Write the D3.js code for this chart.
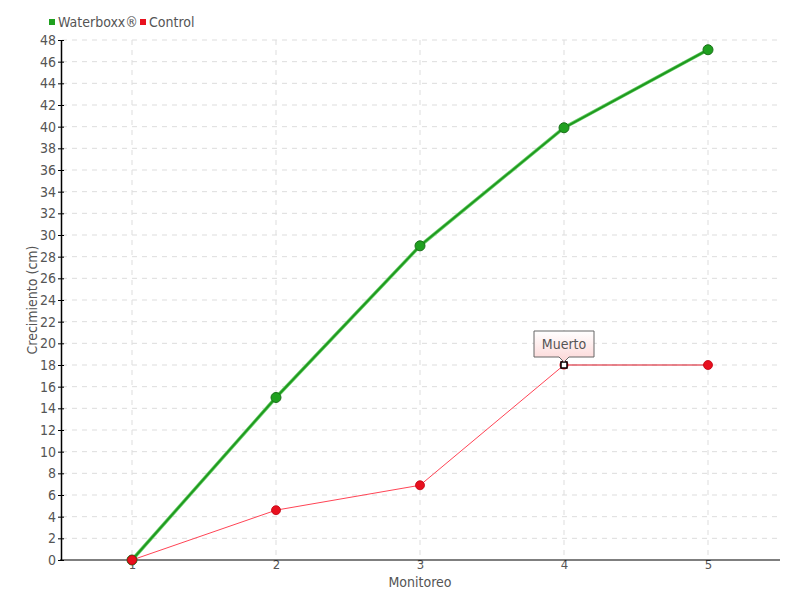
<!DOCTYPE html>
<html><head><meta charset="utf-8">
<script src="https://cdn.jsdelivr.net/npm/d3@7/dist/d3.min.js"></script>
<style>
body{margin:0;background:#fff;}
text{font-family:"DejaVu Sans Condensed","DejaVu Sans",sans-serif;fill:#555;}
</style></head><body>
<svg id="c" width="800" height="600"></svg>
<script>
const monitoreo = [1, 2, 3, 4, 5];
const waterboxx = [0, 15, 29, 39.9, 47.1];
const control = [0, 4.6, 6.9, 18, 18];
const yTicks = d3.range(0, 49, 2);
const seriesNames = ["Waterboxx®", "Control"];
const seriesColors = ["#1fa01f", "#e8101e"];
const annotationIndex = 3;
const annotationText = "Muerto";

const svg = d3.select("#c");
const x = d3.scaleLinear().domain([0.5, 5.5]).range([60, 780]);
const y = d3.scaleLinear().domain([0, 48]).range([560, 40]);

// grid
const g = svg.append("g");
g.selectAll(".hg").data(yTicks.slice(1)).enter().append("line")
 .attr("x1", 62).attr("x2", 780).attr("y1", d => y(d)).attr("y2", d => y(d))
 .attr("stroke", "#ddd").attr("stroke-dasharray", "5,5");
g.selectAll(".vg").data(monitoreo).enter().append("line")
 .attr("x1", d => x(d)).attr("x2", d => x(d)).attr("y1", 40).attr("y2", 560)
 .attr("stroke", "#ddd").attr("stroke-dasharray", "5,5");

// axes
const ya = svg.append("g").attr("transform", "translate(61,0)")
 .call(d3.axisLeft(y).tickValues(yTicks).tickSize(3).tickPadding(2).tickSizeOuter(0));
ya.select(".domain").attr("stroke", "#000").attr("stroke-width", 1.5);
ya.selectAll(".tick line").attr("x2", 3).attr("x1", -3).attr("stroke", "#000");
ya.selectAll("text").attr("font-size", 14).attr("fill", "#555").attr("font-family", "DejaVu Sans Condensed");

const xa = svg.append("g").attr("transform", "translate(0,560)")
 .call(d3.axisBottom(x).tickValues(monitoreo).tickFormat(d3.format("d")).tickSize(0).tickPadding(0).tickSizeOuter(0));
xa.select(".domain").remove();
svg.append("line").attr("x1", 60).attr("x2", 780).attr("y1", 560).attr("y2", 560).attr("stroke", "#000").attr("stroke-width", 1.2);
xa.selectAll("text").attr("font-size", 13).attr("fill", "#555").attr("font-family", "DejaVu Sans Condensed");

svg.append("text").attr("x", 420).attr("y", 587).attr("text-anchor", "middle").attr("font-size", 14).text("Monitoreo");
svg.append("text").attr("transform", "translate(37,300) rotate(-90)").attr("text-anchor", "middle").attr("font-size", 14).text("Crecimiento (cm)");

// lines
const line = d3.line().x((d, i) => x(monitoreo[i])).y(d => y(d));
svg.append("path").datum(waterboxx).attr("d", line).attr("fill", "none").attr("stroke", "#6cd06c").attr("stroke-width", 3.5);
svg.append("path").datum(waterboxx).attr("d", line).attr("fill", "none").attr("stroke", "#1f9a1f").attr("stroke-width", 2);

svg.append("path").datum(control.slice(0, annotationIndex + 1)).attr("d", line).attr("fill", "none").attr("stroke", "#ff4455").attr("stroke-width", 1);
svg.append("line").attr("x1", x(monitoreo[3])).attr("x2", x(monitoreo[4])).attr("y1", y(control[3])).attr("y2", y(control[4]))
 .attr("stroke", "#d81020").attr("stroke-width", 1);

svg.selectAll(".wp").data(waterboxx).enter().append("circle")
 .attr("cx", (d, i) => x(monitoreo[i])).attr("cy", d => y(d)).attr("r", 5)
 .attr("fill", "#1fa01f").attr("stroke", "#1a701a").attr("stroke-width", 1);

const pts = control.map((v, i) => ({v, i})).filter(p => p.i !== annotationIndex);
svg.selectAll(".cp").data(pts).enter().append("circle")
 .attr("cx", p => x(monitoreo[p.i])).attr("cy", p => y(p.v)).attr("r", 4.5)
 .attr("fill", "#e8101e").attr("stroke", "#c00010").attr("stroke-width", 0.8);

// annotated point
const ax = x(monitoreo[annotationIndex]), ay = y(control[annotationIndex]);
svg.append("circle").attr("cx", ax).attr("cy", ay).attr("r", 4.5).attr("fill", "#e8101e");
svg.append("rect").attr("x", ax - 3).attr("y", ay - 3).attr("width", 6).attr("height", 6)
 .attr("fill", "#fff").attr("stroke", "#000").attr("stroke-width", 1.5);

// callout
const defs = svg.append("defs");
const gr = defs.append("linearGradient").attr("id", "pk").attr("x1", 0).attr("x2", 0).attr("y1", 0).attr("y2", 1);
gr.append("stop").attr("offset", "0%").attr("stop-color", "#ffffff");
gr.append("stop").attr("offset", "100%").attr("stop-color", "#fcd6d6");
const bx = ax - 30, by = ay - 34, bw = 60, bh = 26;
svg.append("path")
 .attr("d", `M${bx},${by} H${bx+bw} V${by+bh} H${ax+5} L${ax},${by+bh+5} L${ax-5},${by+bh} H${bx} Z`)
 .attr("fill", "url(#pk)").attr("stroke", "#666").attr("stroke-width", 1);
svg.append("text").attr("x", ax).attr("y", by + 18).attr("text-anchor", "middle").attr("font-size", 14).text(annotationText);

// legend
const lg = svg.append("g");
const lx = [49, 140];
seriesNames.forEach((n, i) => {
 lg.append("rect").attr("x", lx[i]).attr("y", 19).attr("width", 6).attr("height", 6).attr("fill", seriesColors[i]);
 lg.append("text").attr("x", lx[i] + 9).attr("y", 27).attr("font-size", 14).text(n);
});
</script>
</body></html>
